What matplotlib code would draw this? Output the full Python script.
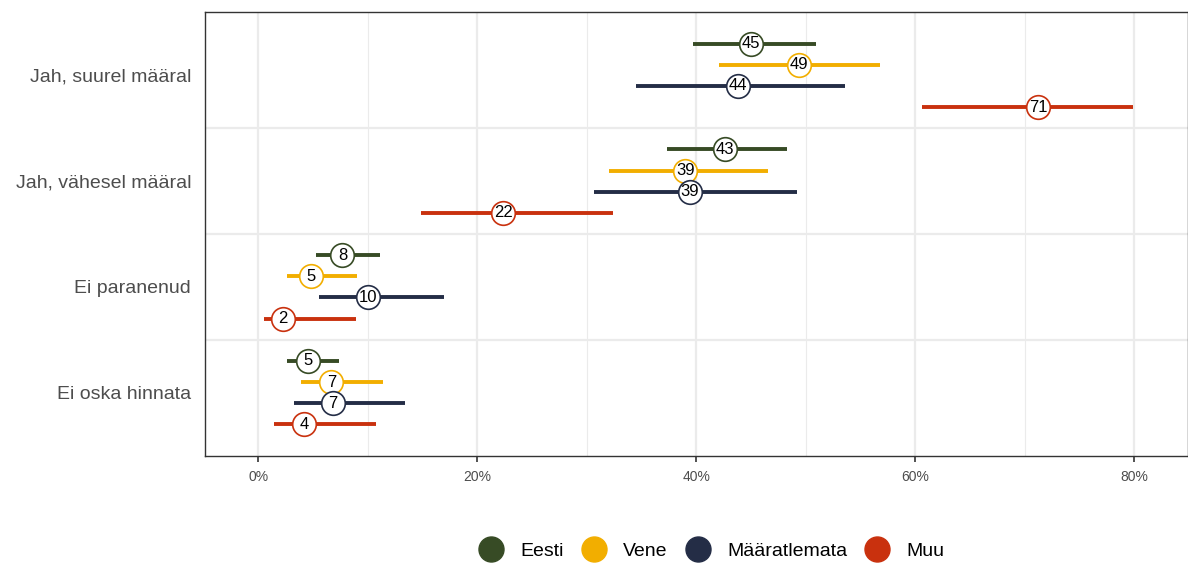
import matplotlib.pyplot as plt
from matplotlib.lines import Line2D

plt.rcParams['font.family'] = ['Liberation Sans', 'DejaVu Sans']

# === DATA ===
categories = ["Jah, suurel määral", "Jah, vähesel määral", "Ei paranenud", "Ei oska hinnata"]
groups = ["Eesti", "Vene", "Määratlemata", "Muu"]
colors = ["#374B25", "#F2AE00", "#242D46", "#C9310E"]

est = {
    "Eesti":        [45.0, 42.6, 7.7, 4.6],
    "Vene":         [49.4, 39.0, 4.8, 6.7],
    "Määratlemata": [43.8, 39.4, 10.0, 6.8],
    "Muu":          [71.2, 22.4, 2.3, 4.2],
}
low = {
    "Eesti":        [39.7, 37.3, 5.3, 2.6],
    "Vene":         [42.1, 32.0, 2.6, 3.9],
    "Määratlemata": [34.5, 30.7, 5.6, 3.3],
    "Muu":          [60.6, 14.9, 0.5, 1.5],
}
high = {
    "Eesti":        [50.9, 48.3, 11.1, 7.4],
    "Vene":         [56.8, 46.6, 9.0, 11.4],
    "Määratlemata": [53.6, 49.2, 17.0, 13.4],
    "Muu":          [79.9, 32.4, 8.9, 10.8],
}
offsets = [-0.3, -0.1, 0.1, 0.3]

fig = plt.figure(figsize=(11.88, 5.63), dpi=100)
ax = fig.add_axes([0.1726, 0.19, 0.8274, 0.7887])

# grid
for v in [10, 30, 50, 70]:
    ax.axvline(v, color="#EBEBEB", lw=0.8, zorder=0)
for v in [0, 20, 40, 60, 80]:
    ax.axvline(v, color="#EBEBEB", lw=1.6, zorder=0)
for b in [0.5, 1.5, 2.5]:
    ax.axhline(b, color="#EBEBEB", lw=1.6, zorder=0)

for g, col, off in zip(groups, colors, offsets):
    for i in range(len(categories)):
        y = i + off
        ax.plot([low[g][i], high[g][i]], [y, y], color=col, lw=2.8,
                solid_capstyle="butt", zorder=2)
        ax.plot(est[g][i], y, "o", ms=17, mfc="white", mec=col, mew=1.2, zorder=3)
        ax.text(est[g][i], y, f"{round(est[g][i]):.0f}", ha="center", va="center",
                fontsize=12, color="black", zorder=4)

ax.set_xlim(-4.84, 84.9)
ax.set_ylim(3.6, -0.6)
ax.set_yticks(range(len(categories)))
ax.set_yticklabels(categories, fontsize=14, color="#4D4D4D")
ax.tick_params(axis="y", length=0, pad=10)
ax.set_xticks([0, 20, 40, 60, 80])
ax.set_xticklabels([f"{v}%" for v in [0, 20, 40, 60, 80]], fontsize=10, color="#4D4D4D")
ax.tick_params(axis="x", length=4, width=1.2, color="#333333", pad=6)
for s in ax.spines.values():
    s.set_color("#333333")
    s.set_linewidth(1.0)

handles = [Line2D([], [], marker="o", ls="", ms=18, mfc=c, mec=c) for c in colors]
fig.legend(handles, groups, loc="center", bbox_to_anchor=(0.596, 0.021),
           ncol=4, frameon=False, fontsize=14, handletextpad=0.5,
           columnspacing=0.55)

fig.savefig("out.png", dpi=100)
